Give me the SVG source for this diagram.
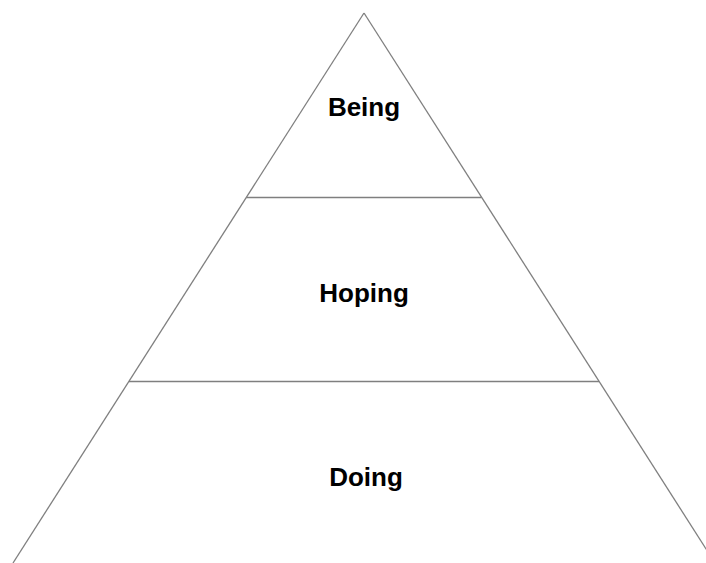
<svg xmlns="http://www.w3.org/2000/svg" width="706" height="563" viewBox="0 0 706 563">
<style>
.edge{stroke:#7f7f7f;stroke-width:1.3;fill:none}
.lbl{font-family:"Liberation Sans",Arial,sans-serif;font-weight:bold;font-size:26px;fill:#000;text-anchor:middle}
</style>
<rect width="706" height="563" fill="#fff"/>
<g id="connectors">
<line class="edge" x1="364" y1="13" x2="13" y2="563"/>
<line class="edge" x1="364" y1="13" x2="715" y2="563"/>
<line class="edge" x1="246.5" y1="197.5" x2="481.5" y2="197.5"/>
<line class="edge" x1="129" y1="381.5" x2="599" y2="381.5"/>
</g>
<g id="being"><text class="lbl" x="364" y="116">Being</text></g>
<g id="hoping"><text class="lbl" x="364" y="302">Hoping</text></g>
<g id="doing"><text class="lbl" x="366" y="486">Doing</text></g>
</svg>
